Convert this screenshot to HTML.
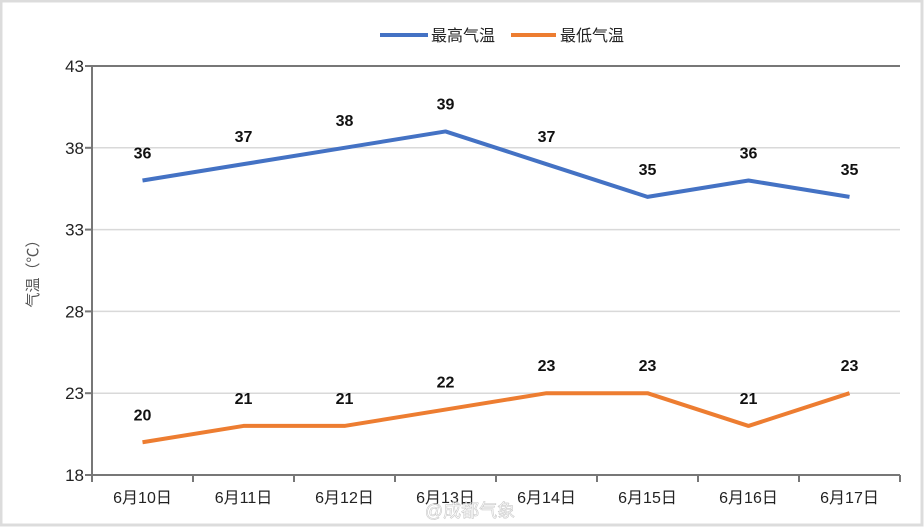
<!DOCTYPE html>
<html><head><meta charset="utf-8"><style>
body{margin:0;background:#fff}
svg{display:block;font-family:"Liberation Sans","Noto Sans CJK SC",sans-serif}
</style></head><body>
<svg id="c" width="924" height="528">
<rect x="1" y="1" width="921" height="524" fill="#fff" stroke="#dcdcdc" stroke-width="3"/>
<g>
<line x1="380" y1="35" x2="428" y2="35" stroke="#4472c4" stroke-width="4"/>
<text x="431" y="41" font-size="16" fill="#222">最高气温</text>
<line x1="511" y1="35" x2="556" y2="35" stroke="#ed7d31" stroke-width="4"/>
<text x="560" y="41" font-size="16" fill="#222">最低气温</text>
</g>
<text transform="translate(38,270) rotate(-90)" text-anchor="middle" font-size="15" fill="#555">气温（℃）</text>
<g id="grid"></g><g id="axes"></g><g id="series"></g>
<text x="470" y="517" text-anchor="middle" font-size="18" fill="#fff" stroke="#bbb" stroke-width="0.6" opacity="0.8">@成都气象</text>
</svg>
<script>
const categories=["6月10日","6月11日","6月12日","6月13日","6月14日","6月15日","6月16日","6月17日"];
const highTemps=[36,37,38,39,37,35,36,35];
const lowTemps=[20,21,21,22,23,23,21,23];
const yTicks=[18,23,28,33,38,43];
const NS="http://www.w3.org/2000/svg";
const L=92,R=900,T=66,B=475,yMin=18,yMax=43;
const bw=(R-L)/categories.length;
const xS=i=>L+bw*(i+0.5);
const yS=v=>B-(v-yMin)/(yMax-yMin)*(B-T);
function mk(p,tag,a){const e=document.createElementNS(NS,tag);for(const k in a)e.setAttribute(k,a[k]);p.appendChild(e);return e;}
const grid=document.getElementById('grid'),axes=document.getElementById('axes'),ser=document.getElementById('series');
yTicks.forEach(v=>{
  const y=yS(v);
  const g=mk(grid,'line',{x1:L,x2:R,y1:y,y2:y,stroke:(v===yMax?'#777':'#d9d9d9'),'stroke-width':(v===yMax?2:1.5)});
  
  
  const tk=mk(axes,'line',{x1:L-7,x2:L,y1:y,y2:y,stroke:'#777','stroke-width':2});
  
  
  const t=mk(axes,'text',{x:L-8,y:y+6,'text-anchor':'end','font-size':17,fill:'#222'});
  t.textContent=v;
  
  
});
const ya=mk(axes,'line',{x1:L,x2:L,y1:T,y2:B,stroke:'#777','stroke-width':2});


const xa=mk(axes,'line',{x1:L,x2:R,y1:B,y2:B,stroke:'#777','stroke-width':2});


for(let i=0;i<=categories.length;i++){
  const x=L+bw*i;
  const tk=mk(axes,'line',{x1:x,x2:x,y1:B,y2:B+7,stroke:'#777','stroke-width':2});
  
  
}
categories.forEach((c,i)=>{
  const t=mk(axes,'text',{x:xS(i),y:503,'text-anchor':'middle','font-size':16,fill:'#222'});
  t.textContent=c;
  
  
});
function series(vals,color,name){
  const pts=vals.map((v,i)=>xS(i)+','+yS(v)).join(' ');
  const pl=mk(ser,'polyline',{points:pts,fill:'none',stroke:color,'stroke-width':4,'stroke-linejoin':'round'});
  
  
  vals.forEach((v,i)=>{
    const t=mk(ser,'text',{x:xS(i),y:yS(v)-22,'text-anchor':'middle','font-size':16,'font-weight':'bold',fill:'#111'});
    t.textContent=v;
    
    
  });
}
series(highTemps,'#4472c4','high-temp');
series(lowTemps,'#ed7d31','low-temp');
</script>
</body></html>
